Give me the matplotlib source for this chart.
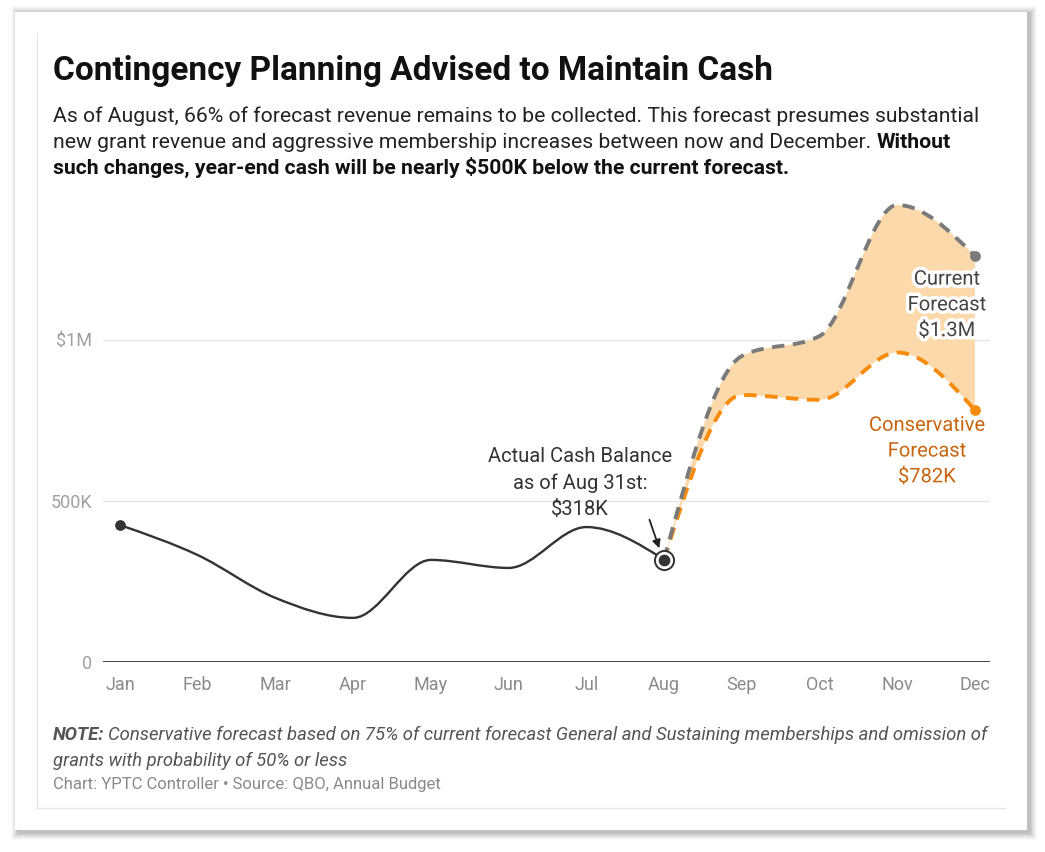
import matplotlib
matplotlib.use('Agg')
import matplotlib.pyplot as plt
import matplotlib.patheffects as pe
from matplotlib.path import Path
from matplotlib.patches import PathPatch, Rectangle
import numpy as np

plt.rcParams['font.family'] = ['Roboto', 'DejaVu Sans']

# data (values in $K)
months = ['Jan', 'Feb', 'Mar', 'Apr', 'May', 'Jun', 'Jul', 'Aug', 'Sep', 'Oct', 'Nov', 'Dec']
actual = [425, 332, 199, 137, 317, 292, 419, 318]
current_fc = [318, 950, 1012, 1419, 1261]
conservative_fc = [318, 829, 814, 961, 782]
fc_months = months[7:]
y_ticks = [0, 500, 1000]
y_tick_labels = ['0', '500K', '$1M']

W, H = 1045, 852


def px(x, y):
    # pixel (top-left origin) -> figure fraction
    return x / W, 1 - y / H


def monotone_tangents(xs, ys):
    # same tangents as d3.curveMonotoneX
    n = len(xs)
    t = np.zeros(n)
    s = [(ys[i + 1] - ys[i]) / (xs[i + 1] - xs[i]) for i in range(n - 1)]
    for i in range(1, n - 1):
        h0 = xs[i] - xs[i - 1]
        h1 = xs[i + 1] - xs[i]
        s0, s1 = s[i - 1], s[i]
        p = (s0 * h1 + s1 * h0) / (h0 + h1)
        t[i] = (np.sign(s0) + np.sign(s1)) * min(abs(s0), abs(s1), 0.5 * abs(p))
    t[0] = (3 * s[0] - t[1]) / 2
    t[-1] = (3 * s[-1] - t[-2]) / 2
    return t


def monotone_path(xs, ys, start=True):
    t = monotone_tangents(xs, ys)
    verts, codes = [], []
    if start:
        verts.append((xs[0], ys[0]))
        codes.append(Path.MOVETO)
    for i in range(len(xs) - 1):
        dx = (xs[i + 1] - xs[i]) / 3
        verts += [(xs[i] + dx, ys[i] + dx * t[i]),
                  (xs[i + 1] - dx, ys[i + 1] - dx * t[i + 1]),
                  (xs[i + 1], ys[i + 1])]
        codes += [Path.CURVE4] * 3
    return verts, codes


fig = plt.figure(figsize=(W / 100, H / 100), dpi=100)
fig.patch.set_facecolor('white')

# card with soft shadow
for k, a in enumerate([0.02, 0.025, 0.03, 0.035, 0.04, 0.05, 0.06]):
    off = 7 - k
    x0, y0 = px(15 - off + 3, 830 + off + 3)
    x1, y1 = px(1027 + off + 3, 12 - off + 1)
    fig.patches.append(Rectangle((x0, y0), x1 - x0, y1 - y0, transform=fig.transFigure,
                                 facecolor='#000000', alpha=a, edgecolor='none', zorder=0))
x0, y0 = px(15, 830)
x1, y1 = px(1027, 12)
fig.patches.append(Rectangle((x0, y0), x1 - x0, y1 - y0, transform=fig.transFigure,
                             facecolor='white', edgecolor='none', zorder=1))
fig.lines.append(plt.Line2D([37 / W, 37 / W], [1 - 33 / H, 1 - 808 / H], transform=fig.transFigure,
                            color='#e6e6e6', lw=1, zorder=2))
fig.lines.append(plt.Line2D([37 / W, 1005 / W], [1 - 808 / H, 1 - 808 / H], transform=fig.transFigure,
                            color='#e6e6e6', lw=1, zorder=2))

# axes
ax = fig.add_axes([103 / W, 1 - 662 / H, (990 - 103) / W, (662 - 195) / H])
ax.set_zorder(3)
ax.patch.set_alpha(0)
x_all = np.arange(len(months))
ax.set_xlim(-17 / 77.7, 11 + 15 / 77.7)
ax.set_ylim(0, 1450)
for s in ax.spines.values():
    s.set_visible(False)
ax.set_yticks(y_ticks)
ax.set_yticklabels(y_tick_labels)
ax.set_xticks(x_all)
ax.set_xticklabels(months)
ax.tick_params(axis='both', length=0, labelsize=13, labelcolor='#8a8a8a')
ax.tick_params(axis='y', pad=8, labelcolor='#a0a0a0')
ax.tick_params(axis='x', pad=10)
for v in y_ticks[1:]:
    ax.axhline(v, color='#e6e6e6', lw=1, zorder=1)
ax.axhline(0, color='#333333', lw=2, zorder=2)

xa = x_all[:len(actual)]
xf = x_all[7:7 + len(fc_months)]

# band between forecasts
v1, c1 = monotone_path(list(xf), current_fc)
v2, c2 = monotone_path(list(xf[::-1]), conservative_fc[::-1], start=False)
band = Path(v1 + [(xf[-1], conservative_fc[-1])] + v2 + [v1[0]],
            c1 + [Path.LINETO] + c2 + [Path.CLOSEPOLY])
ax.add_patch(PathPatch(band, facecolor='#fcd9aa', edgecolor='none', zorder=3))

# conservative forecast line
v, c = monotone_path(list(xf), conservative_fc)
ax.add_patch(PathPatch(Path(v, c), facecolor='none', edgecolor='#f68b0c', lw=2.8,
                       linestyle=(0, (3.2, 2.2)), capstyle='butt', zorder=4))
# current forecast line
v, c = monotone_path(list(xf), current_fc)
ax.add_patch(PathPatch(Path(v, c), facecolor='none', edgecolor='#7a7a7a', lw=2.8,
                       linestyle=(0, (3.2, 2.2)), capstyle='butt', zorder=5))
# actual line
v, c = monotone_path(list(xa), actual)
ax.add_patch(PathPatch(Path(v, c), facecolor='none', edgecolor='#333333', lw=1.7, zorder=6))

ax.scatter([xa[0]], [actual[0]], s=45, color='#333333', zorder=7)
ax.scatter([xa[-1]], [actual[-1]], s=190, facecolor='white', edgecolor='#333333', lw=1.4, zorder=7)
ax.scatter([xa[-1]], [actual[-1]], s=55, color='#333333', zorder=8)
ax.scatter([xf[-1]], [current_fc[-1]], s=45, color='#7a7a7a', zorder=7)
ax.scatter([xf[-1]], [conservative_fc[-1]], s=45, color='#f68b0c', zorder=7)

# annotations
ax.text(5.92, 556, 'Actual Cash Balance\nas of Aug 31st:\n$318K', ha='center', va='center',
        fontsize=14.5, color='#333333', linespacing=1.45, zorder=9)
ax.annotate('', xy=(6.95, 345), xytext=(6.8, 450),
            arrowprops=dict(arrowstyle='-|>', color='#222222', lw=1.3, mutation_scale=12), zorder=9)
halo = [pe.withStroke(linewidth=5, foreground='white')]
ax.text(11.14, 1109, 'Current\nForecast\n$1.3M', ha='right', va='center', multialignment='center',
        fontsize=14.5, color='#444444', linespacing=1.45, path_effects=halo, zorder=9)
ax.text(10.38, 655, 'Conservative\nForecast\n$782K', ha='center', va='center', fontsize=14.5,
        color='#c8650f', linespacing=1.45, path_effects=halo, zorder=9)

# title and subtitle
fig.text(*px(53, 80), 'Contingency Planning Advised to Maintain Cash', fontsize=24,
         fontweight='bold', color='#111111', zorder=10)
sub_lines = ['As of August, 66% of forecast revenue remains to be collected. This forecast presumes substantial',
             'new grant revenue and aggressive membership increases between now and December.']
fs_sub = 15.2
fig.text(*px(53, 122), sub_lines[0], fontsize=fs_sub, color='#222222', zorder=10)
t2 = fig.text(*px(53, 148), sub_lines[1], fontsize=fs_sub, color='#222222', zorder=10)
fig.text(*px(53, 174), 'such changes, year-end cash will be nearly $500K below the current forecast.',
         fontsize=fs_sub, fontweight='bold', color='#111111', zorder=10)
renderer = fig.canvas.get_renderer()
bb = t2.get_window_extent(renderer)
fig.text((bb.x1 + 5) / W, 1 - 148 / H, 'Without', fontsize=fs_sub, fontweight='bold',
         color='#111111', zorder=10)

# note and source
fs_note = 13.3
n1 = fig.text(*px(53, 740), 'NOTE:', fontsize=fs_note, fontweight='bold', style='italic',
              color='#555555', zorder=10)
bb = n1.get_window_extent(renderer)
fig.text((bb.x1 + 4) / W, 1 - 740 / H,
         'Conservative forecast based on 75% of current forecast General and Sustaining memberships and omission of',
         fontsize=fs_note, style='italic', color='#555555', zorder=10)
fig.text(*px(53, 766), 'grants with probability of 50% or less', fontsize=fs_note, style='italic',
         color='#555555', zorder=10)
fig.text(*px(53, 789), 'Chart: YPTC Controller \u2022 Source: QBO, Annual Budget', fontsize=12,
         color='#8a8a8a', zorder=10)

fig.savefig('out.png', dpi=100)
